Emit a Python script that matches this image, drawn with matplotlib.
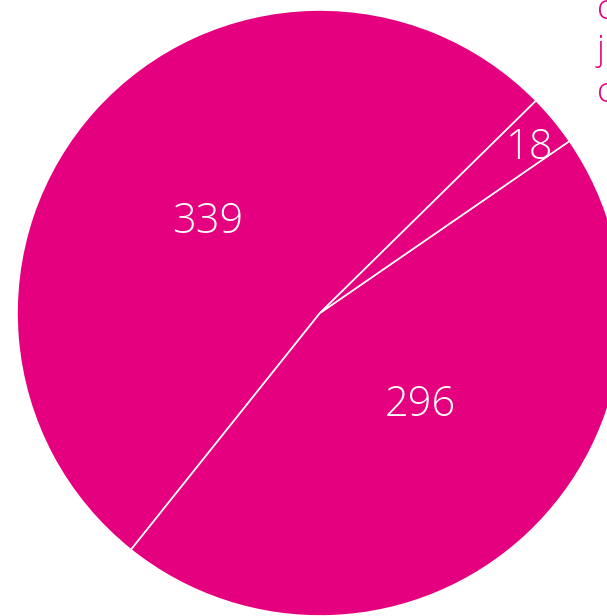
import numpy as np
import matplotlib.pyplot as plt

labels = ['339', '296', '18']
values = [339, 296, 18]
label_dist = [0.476, 0.449, 0.88]
label_turn = [3.0, 4.4, -1.3]  # small angle nudges (deg) from slice middle
legend_lines = ['c', 'j', 'c']

pink = '#E4007F'
W, H = 607, 616
cx, cy, R = 320, 313, 303  # pixel centre and radius of the pie

fig = plt.figure(figsize=(W / 100, H / 100), dpi=100)
ax = fig.add_axes([0, 0, 1, 1])
wedges, _ = ax.pie(values, colors=[pink] * 3, startangle=44.5, counterclock=True,
                   wedgeprops=dict(edgecolor='white', linewidth=1.2))
for w, lab, d, t in zip(wedges, labels, label_dist, label_turn):
    mid = np.deg2rad((w.theta1 + w.theta2) / 2 + t)
    ax.text(d * np.cos(mid), d * np.sin(mid), lab, color='white', fontsize=30,
            family='Open Sans', weight='light', ha='center', va='center')

ax.set_xlim(-cx / R, (W - cx) / R)
ax.set_ylim(-(H - cy) / R, cy / R)
ax.set_aspect('auto')
ax.axis('off')

# legend text cut off at the right edge
for i, t in enumerate(legend_lines):
    fig.text(597 / W, 1 - (-8 + 42 * i) / H, t, color=pink, fontsize=25,
             family='Open Sans', weight='light', ha='left', va='top')

fig.savefig('out.png', dpi=100)
